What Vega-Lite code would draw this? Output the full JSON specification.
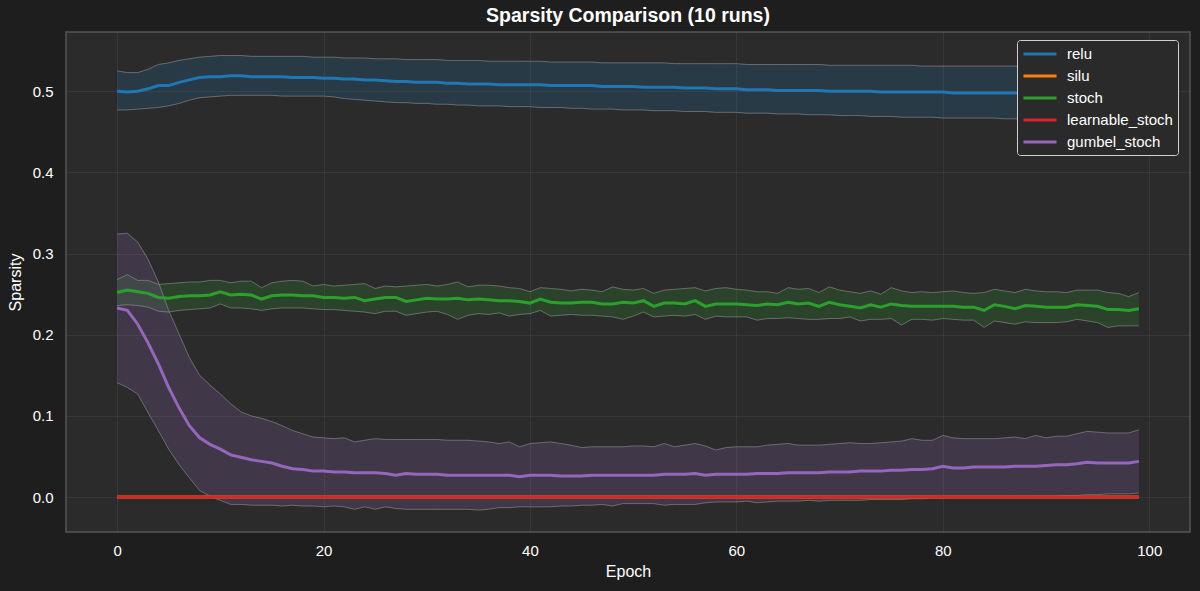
{
  "$schema": "https://vega.github.io/schema/vega-lite/v6.json",
  "width": 1124,
  "height": 500,
  "autosize": {"type": "none"},
  "padding": {"left": 66, "top": 32, "right": 10, "bottom": 59},
  "background": "#1e1e1e",
  "title": {"text": "Sparsity Comparison (10 runs)", "color": "#ffffff", "font": "Liberation Sans", "fontSize": 19.5, "fontWeight": "bold", "anchor": "middle", "offset": 6},
  "config": {
    "view": {"fill": "#2b2b2b", "stroke": "#555555", "strokeWidth": 1.5},
    "axis": {"labelColor": "#ffffff", "titleColor": "#ffffff", "labelFont": "Liberation Sans", "titleFont": "Liberation Sans", "labelFontSize": 15, "titleFontSize": 16, "titleFontWeight": "normal", "gridColor": "#ffffff", "gridOpacity": 0.06, "domain": false, "ticks": false},
    "legend": {"orient": "none", "legendX": 951, "legendY": 8, "fillColor": "#2a2a2a", "strokeColor": "#d0d0d0", "cornerRadius": 3, "padding": 5, "labelColor": "#ffffff", "labelFont": "Liberation Sans", "labelFontSize": 15, "symbolType": "M-1,0H3.4", "symbolStrokeWidth": 3, "symbolSize": 225, "symbolOpacity": 1, "rowPadding": 5, "labelOffset": 27}
  },
  "datasets": {
    "runs": [
      {"e":0,"s":"relu","m":0.500,"hi":0.525,"lo":0.477},{"e":1,"s":"relu","m":0.499,"hi":0.523,"lo":0.477},{"e":2,"s":"relu","m":0.500,"hi":0.523,"lo":0.478},{"e":3,"s":"relu","m":0.503,"hi":0.527,"lo":0.479},{"e":4,"s":"relu","m":0.507,"hi":0.533,"lo":0.480},
      {"e":5,"s":"relu","m":0.507,"hi":0.535,"lo":0.482},{"e":6,"s":"relu","m":0.511,"hi":0.538,"lo":0.485},{"e":7,"s":"relu","m":0.514,"hi":0.540,"lo":0.489},{"e":8,"s":"relu","m":0.517,"hi":0.542,"lo":0.492},{"e":9,"s":"relu","m":0.518,"hi":0.543,"lo":0.493},
      {"e":10,"s":"relu","m":0.518,"hi":0.544,"lo":0.494},{"e":11,"s":"relu","m":0.519,"hi":0.544,"lo":0.495},{"e":12,"s":"relu","m":0.519,"hi":0.544,"lo":0.495},{"e":13,"s":"relu","m":0.518,"hi":0.543,"lo":0.495},{"e":14,"s":"relu","m":0.518,"hi":0.543,"lo":0.495},
      {"e":15,"s":"relu","m":0.518,"hi":0.543,"lo":0.495},{"e":16,"s":"relu","m":0.518,"hi":0.543,"lo":0.494},{"e":17,"s":"relu","m":0.517,"hi":0.543,"lo":0.494},{"e":18,"s":"relu","m":0.517,"hi":0.543,"lo":0.494},{"e":19,"s":"relu","m":0.517,"hi":0.542,"lo":0.494},
      {"e":20,"s":"relu","m":0.516,"hi":0.542,"lo":0.494},{"e":21,"s":"relu","m":0.516,"hi":0.542,"lo":0.493},{"e":22,"s":"relu","m":0.515,"hi":0.541,"lo":0.491},{"e":23,"s":"relu","m":0.515,"hi":0.541,"lo":0.490},{"e":24,"s":"relu","m":0.514,"hi":0.541,"lo":0.489},
      {"e":25,"s":"relu","m":0.514,"hi":0.540,"lo":0.488},{"e":26,"s":"relu","m":0.513,"hi":0.540,"lo":0.487},{"e":27,"s":"relu","m":0.512,"hi":0.540,"lo":0.486},{"e":28,"s":"relu","m":0.512,"hi":0.539,"lo":0.486},{"e":29,"s":"relu","m":0.511,"hi":0.539,"lo":0.485},
      {"e":30,"s":"relu","m":0.511,"hi":0.539,"lo":0.485},{"e":31,"s":"relu","m":0.511,"hi":0.539,"lo":0.484},{"e":32,"s":"relu","m":0.510,"hi":0.538,"lo":0.484},{"e":33,"s":"relu","m":0.510,"hi":0.538,"lo":0.483},{"e":34,"s":"relu","m":0.509,"hi":0.538,"lo":0.483},
      {"e":35,"s":"relu","m":0.509,"hi":0.538,"lo":0.482},{"e":36,"s":"relu","m":0.509,"hi":0.537,"lo":0.482},{"e":37,"s":"relu","m":0.508,"hi":0.537,"lo":0.482},{"e":38,"s":"relu","m":0.508,"hi":0.537,"lo":0.481},{"e":39,"s":"relu","m":0.508,"hi":0.537,"lo":0.481},
      {"e":40,"s":"relu","m":0.508,"hi":0.537,"lo":0.481},{"e":41,"s":"relu","m":0.508,"hi":0.537,"lo":0.480},{"e":42,"s":"relu","m":0.507,"hi":0.536,"lo":0.480},{"e":43,"s":"relu","m":0.507,"hi":0.536,"lo":0.480},{"e":44,"s":"relu","m":0.507,"hi":0.536,"lo":0.479},
      {"e":45,"s":"relu","m":0.507,"hi":0.536,"lo":0.479},{"e":46,"s":"relu","m":0.507,"hi":0.536,"lo":0.478},{"e":47,"s":"relu","m":0.506,"hi":0.535,"lo":0.478},{"e":48,"s":"relu","m":0.506,"hi":0.535,"lo":0.478},{"e":49,"s":"relu","m":0.506,"hi":0.535,"lo":0.477},
      {"e":50,"s":"relu","m":0.506,"hi":0.535,"lo":0.477},{"e":51,"s":"relu","m":0.505,"hi":0.535,"lo":0.477},{"e":52,"s":"relu","m":0.505,"hi":0.535,"lo":0.476},{"e":53,"s":"relu","m":0.505,"hi":0.535,"lo":0.476},{"e":54,"s":"relu","m":0.505,"hi":0.534,"lo":0.476},
      {"e":55,"s":"relu","m":0.504,"hi":0.534,"lo":0.475},{"e":56,"s":"relu","m":0.504,"hi":0.534,"lo":0.475},{"e":57,"s":"relu","m":0.504,"hi":0.534,"lo":0.475},{"e":58,"s":"relu","m":0.503,"hi":0.534,"lo":0.474},{"e":59,"s":"relu","m":0.503,"hi":0.534,"lo":0.474},
      {"e":60,"s":"relu","m":0.503,"hi":0.534,"lo":0.474},{"e":61,"s":"relu","m":0.502,"hi":0.533,"lo":0.473},{"e":62,"s":"relu","m":0.502,"hi":0.533,"lo":0.473},{"e":63,"s":"relu","m":0.502,"hi":0.533,"lo":0.473},{"e":64,"s":"relu","m":0.501,"hi":0.533,"lo":0.472},
      {"e":65,"s":"relu","m":0.501,"hi":0.533,"lo":0.472},{"e":66,"s":"relu","m":0.501,"hi":0.533,"lo":0.472},{"e":67,"s":"relu","m":0.501,"hi":0.533,"lo":0.471},{"e":68,"s":"relu","m":0.501,"hi":0.533,"lo":0.471},{"e":69,"s":"relu","m":0.500,"hi":0.532,"lo":0.471},
      {"e":70,"s":"relu","m":0.500,"hi":0.532,"lo":0.470},{"e":71,"s":"relu","m":0.500,"hi":0.532,"lo":0.470},{"e":72,"s":"relu","m":0.500,"hi":0.532,"lo":0.470},{"e":73,"s":"relu","m":0.500,"hi":0.532,"lo":0.469},{"e":74,"s":"relu","m":0.499,"hi":0.532,"lo":0.469},
      {"e":75,"s":"relu","m":0.499,"hi":0.532,"lo":0.469},{"e":76,"s":"relu","m":0.499,"hi":0.532,"lo":0.468},{"e":77,"s":"relu","m":0.499,"hi":0.532,"lo":0.468},{"e":78,"s":"relu","m":0.499,"hi":0.531,"lo":0.468},{"e":79,"s":"relu","m":0.499,"hi":0.531,"lo":0.468},
      {"e":80,"s":"relu","m":0.499,"hi":0.531,"lo":0.467},{"e":81,"s":"relu","m":0.498,"hi":0.531,"lo":0.467},{"e":82,"s":"relu","m":0.498,"hi":0.531,"lo":0.467},{"e":83,"s":"relu","m":0.498,"hi":0.531,"lo":0.467},{"e":84,"s":"relu","m":0.498,"hi":0.531,"lo":0.467},
      {"e":85,"s":"relu","m":0.498,"hi":0.531,"lo":0.467},{"e":86,"s":"relu","m":0.498,"hi":0.531,"lo":0.466},{"e":87,"s":"relu","m":0.498,"hi":0.531,"lo":0.466},{"e":88,"s":"relu","m":0.498,"hi":0.530,"lo":0.466},{"e":89,"s":"relu","m":0.497,"hi":0.530,"lo":0.466},
      {"e":90,"s":"relu","m":0.497,"hi":0.530,"lo":0.466},{"e":91,"s":"relu","m":0.497,"hi":0.530,"lo":0.466},{"e":92,"s":"relu","m":0.497,"hi":0.530,"lo":0.465},{"e":93,"s":"relu","m":0.497,"hi":0.530,"lo":0.465},{"e":94,"s":"relu","m":0.497,"hi":0.530,"lo":0.465},
      {"e":95,"s":"relu","m":0.497,"hi":0.530,"lo":0.465},{"e":96,"s":"relu","m":0.497,"hi":0.530,"lo":0.465},{"e":97,"s":"relu","m":0.497,"hi":0.530,"lo":0.465},{"e":98,"s":"relu","m":0.497,"hi":0.530,"lo":0.465},{"e":99,"s":"relu","m":0.497,"hi":0.530,"lo":0.465},

      {"e":0,"s":"silu","m":0},{"e":1,"s":"silu","m":0},{"e":2,"s":"silu","m":0},{"e":3,"s":"silu","m":0},{"e":4,"s":"silu","m":0},{"e":5,"s":"silu","m":0},{"e":6,"s":"silu","m":0},{"e":7,"s":"silu","m":0},{"e":8,"s":"silu","m":0},{"e":9,"s":"silu","m":0},
      {"e":10,"s":"silu","m":0},{"e":11,"s":"silu","m":0},{"e":12,"s":"silu","m":0},{"e":13,"s":"silu","m":0},{"e":14,"s":"silu","m":0},{"e":15,"s":"silu","m":0},{"e":16,"s":"silu","m":0},{"e":17,"s":"silu","m":0},{"e":18,"s":"silu","m":0},{"e":19,"s":"silu","m":0},
      {"e":20,"s":"silu","m":0},{"e":21,"s":"silu","m":0},{"e":22,"s":"silu","m":0},{"e":23,"s":"silu","m":0},{"e":24,"s":"silu","m":0},{"e":25,"s":"silu","m":0},{"e":26,"s":"silu","m":0},{"e":27,"s":"silu","m":0},{"e":28,"s":"silu","m":0},{"e":29,"s":"silu","m":0},
      {"e":30,"s":"silu","m":0},{"e":31,"s":"silu","m":0},{"e":32,"s":"silu","m":0},{"e":33,"s":"silu","m":0},{"e":34,"s":"silu","m":0},{"e":35,"s":"silu","m":0},{"e":36,"s":"silu","m":0},{"e":37,"s":"silu","m":0},{"e":38,"s":"silu","m":0},{"e":39,"s":"silu","m":0},
      {"e":40,"s":"silu","m":0},{"e":41,"s":"silu","m":0},{"e":42,"s":"silu","m":0},{"e":43,"s":"silu","m":0},{"e":44,"s":"silu","m":0},{"e":45,"s":"silu","m":0},{"e":46,"s":"silu","m":0},{"e":47,"s":"silu","m":0},{"e":48,"s":"silu","m":0},{"e":49,"s":"silu","m":0},
      {"e":50,"s":"silu","m":0},{"e":51,"s":"silu","m":0},{"e":52,"s":"silu","m":0},{"e":53,"s":"silu","m":0},{"e":54,"s":"silu","m":0},{"e":55,"s":"silu","m":0},{"e":56,"s":"silu","m":0},{"e":57,"s":"silu","m":0},{"e":58,"s":"silu","m":0},{"e":59,"s":"silu","m":0},
      {"e":60,"s":"silu","m":0},{"e":61,"s":"silu","m":0},{"e":62,"s":"silu","m":0},{"e":63,"s":"silu","m":0},{"e":64,"s":"silu","m":0},{"e":65,"s":"silu","m":0},{"e":66,"s":"silu","m":0},{"e":67,"s":"silu","m":0},{"e":68,"s":"silu","m":0},{"e":69,"s":"silu","m":0},
      {"e":70,"s":"silu","m":0},{"e":71,"s":"silu","m":0},{"e":72,"s":"silu","m":0},{"e":73,"s":"silu","m":0},{"e":74,"s":"silu","m":0},{"e":75,"s":"silu","m":0},{"e":76,"s":"silu","m":0},{"e":77,"s":"silu","m":0},{"e":78,"s":"silu","m":0},{"e":79,"s":"silu","m":0},
      {"e":80,"s":"silu","m":0},{"e":81,"s":"silu","m":0},{"e":82,"s":"silu","m":0},{"e":83,"s":"silu","m":0},{"e":84,"s":"silu","m":0},{"e":85,"s":"silu","m":0},{"e":86,"s":"silu","m":0},{"e":87,"s":"silu","m":0},{"e":88,"s":"silu","m":0},{"e":89,"s":"silu","m":0},
      {"e":90,"s":"silu","m":0},{"e":91,"s":"silu","m":0},{"e":92,"s":"silu","m":0},{"e":93,"s":"silu","m":0},{"e":94,"s":"silu","m":0},{"e":95,"s":"silu","m":0},{"e":96,"s":"silu","m":0},{"e":97,"s":"silu","m":0},{"e":98,"s":"silu","m":0},{"e":99,"s":"silu","m":0},

      {"e":0,"s":"stoch","m":0.252,"hi":0.268,"lo":0.236},{"e":1,"s":"stoch","m":0.255,"hi":0.274,"lo":0.237},{"e":2,"s":"stoch","m":0.253,"hi":0.267,"lo":0.236},{"e":3,"s":"stoch","m":0.251,"hi":0.267,"lo":0.234},{"e":4,"s":"stoch","m":0.246,"hi":0.262,"lo":0.229},
      {"e":5,"s":"stoch","m":0.245,"hi":0.263,"lo":0.228},{"e":6,"s":"stoch","m":0.247,"hi":0.264,"lo":0.230},{"e":7,"s":"stoch","m":0.248,"hi":0.265,"lo":0.231},{"e":8,"s":"stoch","m":0.248,"hi":0.265,"lo":0.232},{"e":9,"s":"stoch","m":0.249,"hi":0.267,"lo":0.233},
      {"e":10,"s":"stoch","m":0.253,"hi":0.267,"lo":0.238},{"e":11,"s":"stoch","m":0.249,"hi":0.264,"lo":0.233},{"e":12,"s":"stoch","m":0.250,"hi":0.266,"lo":0.233},{"e":13,"s":"stoch","m":0.249,"hi":0.266,"lo":0.232},{"e":14,"s":"stoch","m":0.244,"hi":0.258,"lo":0.230},
      {"e":15,"s":"stoch","m":0.248,"hi":0.264,"lo":0.232},{"e":16,"s":"stoch","m":0.249,"hi":0.266,"lo":0.233},{"e":17,"s":"stoch","m":0.249,"hi":0.267,"lo":0.233},{"e":18,"s":"stoch","m":0.248,"hi":0.266,"lo":0.233},{"e":19,"s":"stoch","m":0.248,"hi":0.260,"lo":0.232},
      {"e":20,"s":"stoch","m":0.246,"hi":0.262,"lo":0.231},{"e":21,"s":"stoch","m":0.246,"hi":0.260,"lo":0.231},{"e":22,"s":"stoch","m":0.245,"hi":0.261,"lo":0.230},{"e":23,"s":"stoch","m":0.246,"hi":0.262,"lo":0.229},{"e":24,"s":"stoch","m":0.242,"hi":0.263,"lo":0.228},
      {"e":25,"s":"stoch","m":0.244,"hi":0.257,"lo":0.226},{"e":26,"s":"stoch","m":0.246,"hi":0.260,"lo":0.229},{"e":27,"s":"stoch","m":0.246,"hi":0.259,"lo":0.229},{"e":28,"s":"stoch","m":0.241,"hi":0.260,"lo":0.224},{"e":29,"s":"stoch","m":0.243,"hi":0.261,"lo":0.226},
      {"e":30,"s":"stoch","m":0.245,"hi":0.262,"lo":0.228},{"e":31,"s":"stoch","m":0.244,"hi":0.260,"lo":0.229},{"e":32,"s":"stoch","m":0.244,"hi":0.262,"lo":0.225},{"e":33,"s":"stoch","m":0.245,"hi":0.265,"lo":0.219},{"e":34,"s":"stoch","m":0.243,"hi":0.259,"lo":0.224},
      {"e":35,"s":"stoch","m":0.244,"hi":0.261,"lo":0.226},{"e":36,"s":"stoch","m":0.243,"hi":0.261,"lo":0.225},{"e":37,"s":"stoch","m":0.242,"hi":0.260,"lo":0.227},{"e":38,"s":"stoch","m":0.242,"hi":0.258,"lo":0.223},{"e":39,"s":"stoch","m":0.241,"hi":0.257,"lo":0.225},
      {"e":40,"s":"stoch","m":0.239,"hi":0.253,"lo":0.226},{"e":41,"s":"stoch","m":0.244,"hi":0.258,"lo":0.230},{"e":42,"s":"stoch","m":0.240,"hi":0.257,"lo":0.223},{"e":43,"s":"stoch","m":0.239,"hi":0.256,"lo":0.224},{"e":44,"s":"stoch","m":0.239,"hi":0.254,"lo":0.225},
      {"e":45,"s":"stoch","m":0.240,"hi":0.256,"lo":0.224},{"e":46,"s":"stoch","m":0.240,"hi":0.255,"lo":0.224},{"e":47,"s":"stoch","m":0.238,"hi":0.253,"lo":0.223},{"e":48,"s":"stoch","m":0.238,"hi":0.259,"lo":0.222},{"e":49,"s":"stoch","m":0.240,"hi":0.256,"lo":0.219},
      {"e":50,"s":"stoch","m":0.239,"hi":0.255,"lo":0.223},{"e":51,"s":"stoch","m":0.242,"hi":0.257,"lo":0.228},{"e":52,"s":"stoch","m":0.235,"hi":0.251,"lo":0.222},{"e":53,"s":"stoch","m":0.239,"hi":0.255,"lo":0.223},{"e":54,"s":"stoch","m":0.239,"hi":0.256,"lo":0.224},
      {"e":55,"s":"stoch","m":0.238,"hi":0.257,"lo":0.223},{"e":56,"s":"stoch","m":0.242,"hi":0.258,"lo":0.225},{"e":57,"s":"stoch","m":0.235,"hi":0.254,"lo":0.219},{"e":58,"s":"stoch","m":0.238,"hi":0.257,"lo":0.223},{"e":59,"s":"stoch","m":0.238,"hi":0.258,"lo":0.222},
      {"e":60,"s":"stoch","m":0.238,"hi":0.256,"lo":0.222},{"e":61,"s":"stoch","m":0.237,"hi":0.255,"lo":0.222},{"e":62,"s":"stoch","m":0.236,"hi":0.253,"lo":0.218},{"e":63,"s":"stoch","m":0.238,"hi":0.253,"lo":0.220},{"e":64,"s":"stoch","m":0.237,"hi":0.251,"lo":0.220},
      {"e":65,"s":"stoch","m":0.240,"hi":0.258,"lo":0.221},{"e":66,"s":"stoch","m":0.238,"hi":0.256,"lo":0.220},{"e":67,"s":"stoch","m":0.239,"hi":0.257,"lo":0.219},{"e":68,"s":"stoch","m":0.235,"hi":0.252,"lo":0.219},{"e":69,"s":"stoch","m":0.240,"hi":0.259,"lo":0.220},
      {"e":70,"s":"stoch","m":0.237,"hi":0.255,"lo":0.220},{"e":71,"s":"stoch","m":0.235,"hi":0.253,"lo":0.222},{"e":72,"s":"stoch","m":0.233,"hi":0.251,"lo":0.217},{"e":73,"s":"stoch","m":0.237,"hi":0.254,"lo":0.219},{"e":74,"s":"stoch","m":0.234,"hi":0.250,"lo":0.219},
      {"e":75,"s":"stoch","m":0.238,"hi":0.258,"lo":0.220},{"e":76,"s":"stoch","m":0.236,"hi":0.254,"lo":0.212},{"e":77,"s":"stoch","m":0.235,"hi":0.252,"lo":0.219},{"e":78,"s":"stoch","m":0.235,"hi":0.253,"lo":0.219},{"e":79,"s":"stoch","m":0.235,"hi":0.252,"lo":0.218},
      {"e":80,"s":"stoch","m":0.235,"hi":0.253,"lo":0.220},{"e":81,"s":"stoch","m":0.235,"hi":0.254,"lo":0.219},{"e":82,"s":"stoch","m":0.234,"hi":0.252,"lo":0.218},{"e":83,"s":"stoch","m":0.234,"hi":0.251,"lo":0.218},{"e":84,"s":"stoch","m":0.230,"hi":0.252,"lo":0.209},
      {"e":85,"s":"stoch","m":0.237,"hi":0.256,"lo":0.217},{"e":86,"s":"stoch","m":0.235,"hi":0.254,"lo":0.215},{"e":87,"s":"stoch","m":0.232,"hi":0.252,"lo":0.213},{"e":88,"s":"stoch","m":0.236,"hi":0.256,"lo":0.216},{"e":89,"s":"stoch","m":0.235,"hi":0.254,"lo":0.215},
      {"e":90,"s":"stoch","m":0.234,"hi":0.253,"lo":0.215},{"e":91,"s":"stoch","m":0.234,"hi":0.253,"lo":0.215},{"e":92,"s":"stoch","m":0.234,"hi":0.252,"lo":0.216},{"e":93,"s":"stoch","m":0.237,"hi":0.255,"lo":0.219},{"e":94,"s":"stoch","m":0.236,"hi":0.255,"lo":0.217},
      {"e":95,"s":"stoch","m":0.235,"hi":0.255,"lo":0.215},{"e":96,"s":"stoch","m":0.231,"hi":0.252,"lo":0.209},{"e":97,"s":"stoch","m":0.231,"hi":0.251,"lo":0.211},{"e":98,"s":"stoch","m":0.230,"hi":0.247,"lo":0.211},{"e":99,"s":"stoch","m":0.232,"hi":0.252,"lo":0.211},

      {"e":0,"s":"learnable_stoch","m":0},{"e":1,"s":"learnable_stoch","m":0},{"e":2,"s":"learnable_stoch","m":0},{"e":3,"s":"learnable_stoch","m":0},{"e":4,"s":"learnable_stoch","m":0},{"e":5,"s":"learnable_stoch","m":0},{"e":6,"s":"learnable_stoch","m":0},{"e":7,"s":"learnable_stoch","m":0},{"e":8,"s":"learnable_stoch","m":0},{"e":9,"s":"learnable_stoch","m":0},
      {"e":10,"s":"learnable_stoch","m":0},{"e":11,"s":"learnable_stoch","m":0},{"e":12,"s":"learnable_stoch","m":0},{"e":13,"s":"learnable_stoch","m":0},{"e":14,"s":"learnable_stoch","m":0},{"e":15,"s":"learnable_stoch","m":0},{"e":16,"s":"learnable_stoch","m":0},{"e":17,"s":"learnable_stoch","m":0},{"e":18,"s":"learnable_stoch","m":0},{"e":19,"s":"learnable_stoch","m":0},
      {"e":20,"s":"learnable_stoch","m":0},{"e":21,"s":"learnable_stoch","m":0},{"e":22,"s":"learnable_stoch","m":0},{"e":23,"s":"learnable_stoch","m":0},{"e":24,"s":"learnable_stoch","m":0},{"e":25,"s":"learnable_stoch","m":0},{"e":26,"s":"learnable_stoch","m":0},{"e":27,"s":"learnable_stoch","m":0},{"e":28,"s":"learnable_stoch","m":0},{"e":29,"s":"learnable_stoch","m":0},
      {"e":30,"s":"learnable_stoch","m":0},{"e":31,"s":"learnable_stoch","m":0},{"e":32,"s":"learnable_stoch","m":0},{"e":33,"s":"learnable_stoch","m":0},{"e":34,"s":"learnable_stoch","m":0},{"e":35,"s":"learnable_stoch","m":0},{"e":36,"s":"learnable_stoch","m":0},{"e":37,"s":"learnable_stoch","m":0},{"e":38,"s":"learnable_stoch","m":0},{"e":39,"s":"learnable_stoch","m":0},
      {"e":40,"s":"learnable_stoch","m":0},{"e":41,"s":"learnable_stoch","m":0},{"e":42,"s":"learnable_stoch","m":0},{"e":43,"s":"learnable_stoch","m":0},{"e":44,"s":"learnable_stoch","m":0},{"e":45,"s":"learnable_stoch","m":0},{"e":46,"s":"learnable_stoch","m":0},{"e":47,"s":"learnable_stoch","m":0},{"e":48,"s":"learnable_stoch","m":0},{"e":49,"s":"learnable_stoch","m":0},
      {"e":50,"s":"learnable_stoch","m":0},{"e":51,"s":"learnable_stoch","m":0},{"e":52,"s":"learnable_stoch","m":0},{"e":53,"s":"learnable_stoch","m":0},{"e":54,"s":"learnable_stoch","m":0},{"e":55,"s":"learnable_stoch","m":0},{"e":56,"s":"learnable_stoch","m":0},{"e":57,"s":"learnable_stoch","m":0},{"e":58,"s":"learnable_stoch","m":0},{"e":59,"s":"learnable_stoch","m":0},
      {"e":60,"s":"learnable_stoch","m":0},{"e":61,"s":"learnable_stoch","m":0},{"e":62,"s":"learnable_stoch","m":0},{"e":63,"s":"learnable_stoch","m":0},{"e":64,"s":"learnable_stoch","m":0},{"e":65,"s":"learnable_stoch","m":0},{"e":66,"s":"learnable_stoch","m":0},{"e":67,"s":"learnable_stoch","m":0},{"e":68,"s":"learnable_stoch","m":0},{"e":69,"s":"learnable_stoch","m":0},
      {"e":70,"s":"learnable_stoch","m":0},{"e":71,"s":"learnable_stoch","m":0},{"e":72,"s":"learnable_stoch","m":0},{"e":73,"s":"learnable_stoch","m":0},{"e":74,"s":"learnable_stoch","m":0},{"e":75,"s":"learnable_stoch","m":0},{"e":76,"s":"learnable_stoch","m":0},{"e":77,"s":"learnable_stoch","m":0},{"e":78,"s":"learnable_stoch","m":0},{"e":79,"s":"learnable_stoch","m":0},
      {"e":80,"s":"learnable_stoch","m":0},{"e":81,"s":"learnable_stoch","m":0},{"e":82,"s":"learnable_stoch","m":0},{"e":83,"s":"learnable_stoch","m":0},{"e":84,"s":"learnable_stoch","m":0},{"e":85,"s":"learnable_stoch","m":0},{"e":86,"s":"learnable_stoch","m":0},{"e":87,"s":"learnable_stoch","m":0},{"e":88,"s":"learnable_stoch","m":0},{"e":89,"s":"learnable_stoch","m":0},
      {"e":90,"s":"learnable_stoch","m":0},{"e":91,"s":"learnable_stoch","m":0},{"e":92,"s":"learnable_stoch","m":0},{"e":93,"s":"learnable_stoch","m":0},{"e":94,"s":"learnable_stoch","m":0},{"e":95,"s":"learnable_stoch","m":0},{"e":96,"s":"learnable_stoch","m":0},{"e":97,"s":"learnable_stoch","m":0},{"e":98,"s":"learnable_stoch","m":0},{"e":99,"s":"learnable_stoch","m":0},

      {"e":0,"s":"gumbel_stoch","m":0.233,"hi":0.324,"lo":0.141},{"e":1,"s":"gumbel_stoch","m":0.230,"hi":0.325,"lo":0.135},{"e":2,"s":"gumbel_stoch","m":0.213,"hi":0.314,"lo":0.127},{"e":3,"s":"gumbel_stoch","m":0.190,"hi":0.293,"lo":0.104},{"e":4,"s":"gumbel_stoch","m":0.164,"hi":0.265,"lo":0.082},
      {"e":5,"s":"gumbel_stoch","m":0.135,"hi":0.230,"lo":0.059},{"e":6,"s":"gumbel_stoch","m":0.110,"hi":0.201,"lo":0.040},{"e":7,"s":"gumbel_stoch","m":0.088,"hi":0.172,"lo":0.024},{"e":8,"s":"gumbel_stoch","m":0.073,"hi":0.150,"lo":0.008},{"e":9,"s":"gumbel_stoch","m":0.065,"hi":0.138,"lo":0.001},
      {"e":10,"s":"gumbel_stoch","m":0.059,"hi":0.127,"lo":-0.004},{"e":11,"s":"gumbel_stoch","m":0.052,"hi":0.115,"lo":-0.009},{"e":12,"s":"gumbel_stoch","m":0.049,"hi":0.105,"lo":-0.009},{"e":13,"s":"gumbel_stoch","m":0.046,"hi":0.100,"lo":-0.010},{"e":14,"s":"gumbel_stoch","m":0.044,"hi":0.097,"lo":-0.010},
      {"e":15,"s":"gumbel_stoch","m":0.042,"hi":0.093,"lo":-0.010},{"e":16,"s":"gumbel_stoch","m":0.038,"hi":0.088,"lo":-0.011},{"e":17,"s":"gumbel_stoch","m":0.035,"hi":0.082,"lo":-0.010},{"e":18,"s":"gumbel_stoch","m":0.034,"hi":0.078,"lo":-0.011},{"e":19,"s":"gumbel_stoch","m":0.032,"hi":0.074,"lo":-0.011},
      {"e":20,"s":"gumbel_stoch","m":0.032,"hi":0.073,"lo":-0.012},{"e":21,"s":"gumbel_stoch","m":0.031,"hi":0.072,"lo":-0.011},{"e":22,"s":"gumbel_stoch","m":0.031,"hi":0.073,"lo":-0.012},{"e":23,"s":"gumbel_stoch","m":0.030,"hi":0.068,"lo":-0.015},{"e":24,"s":"gumbel_stoch","m":0.030,"hi":0.070,"lo":-0.012},
      {"e":25,"s":"gumbel_stoch","m":0.030,"hi":0.072,"lo":-0.015},{"e":26,"s":"gumbel_stoch","m":0.029,"hi":0.071,"lo":-0.012},{"e":27,"s":"gumbel_stoch","m":0.027,"hi":0.071,"lo":-0.014},{"e":28,"s":"gumbel_stoch","m":0.029,"hi":0.071,"lo":-0.015},{"e":29,"s":"gumbel_stoch","m":0.028,"hi":0.071,"lo":-0.015},
      {"e":30,"s":"gumbel_stoch","m":0.028,"hi":0.071,"lo":-0.015},{"e":31,"s":"gumbel_stoch","m":0.028,"hi":0.071,"lo":-0.015},{"e":32,"s":"gumbel_stoch","m":0.027,"hi":0.070,"lo":-0.015},{"e":33,"s":"gumbel_stoch","m":0.027,"hi":0.070,"lo":-0.015},{"e":34,"s":"gumbel_stoch","m":0.027,"hi":0.070,"lo":-0.015},
      {"e":35,"s":"gumbel_stoch","m":0.027,"hi":0.069,"lo":-0.016},{"e":36,"s":"gumbel_stoch","m":0.027,"hi":0.068,"lo":-0.015},{"e":37,"s":"gumbel_stoch","m":0.027,"hi":0.066,"lo":-0.013},{"e":38,"s":"gumbel_stoch","m":0.027,"hi":0.068,"lo":-0.013},{"e":39,"s":"gumbel_stoch","m":0.025,"hi":0.062,"lo":-0.012},
      {"e":40,"s":"gumbel_stoch","m":0.027,"hi":0.066,"lo":-0.012},{"e":41,"s":"gumbel_stoch","m":0.027,"hi":0.067,"lo":-0.012},{"e":42,"s":"gumbel_stoch","m":0.027,"hi":0.068,"lo":-0.012},{"e":43,"s":"gumbel_stoch","m":0.026,"hi":0.066,"lo":-0.011},{"e":44,"s":"gumbel_stoch","m":0.026,"hi":0.064,"lo":-0.011},
      {"e":45,"s":"gumbel_stoch","m":0.026,"hi":0.061,"lo":-0.010},{"e":46,"s":"gumbel_stoch","m":0.027,"hi":0.062,"lo":-0.010},{"e":47,"s":"gumbel_stoch","m":0.027,"hi":0.062,"lo":-0.009},{"e":48,"s":"gumbel_stoch","m":0.027,"hi":0.062,"lo":-0.011},{"e":49,"s":"gumbel_stoch","m":0.027,"hi":0.062,"lo":-0.008},
      {"e":50,"s":"gumbel_stoch","m":0.027,"hi":0.063,"lo":-0.008},{"e":51,"s":"gumbel_stoch","m":0.027,"hi":0.063,"lo":-0.008},{"e":52,"s":"gumbel_stoch","m":0.027,"hi":0.062,"lo":-0.008},{"e":53,"s":"gumbel_stoch","m":0.028,"hi":0.066,"lo":-0.010},{"e":54,"s":"gumbel_stoch","m":0.028,"hi":0.062,"lo":-0.009},
      {"e":55,"s":"gumbel_stoch","m":0.028,"hi":0.064,"lo":-0.009},{"e":56,"s":"gumbel_stoch","m":0.029,"hi":0.066,"lo":-0.009},{"e":57,"s":"gumbel_stoch","m":0.027,"hi":0.063,"lo":-0.007},{"e":58,"s":"gumbel_stoch","m":0.028,"hi":0.058,"lo":-0.006},{"e":59,"s":"gumbel_stoch","m":0.028,"hi":0.061,"lo":-0.006},
      {"e":60,"s":"gumbel_stoch","m":0.028,"hi":0.062,"lo":-0.006},{"e":61,"s":"gumbel_stoch","m":0.028,"hi":0.062,"lo":-0.005},{"e":62,"s":"gumbel_stoch","m":0.029,"hi":0.062,"lo":-0.007},{"e":63,"s":"gumbel_stoch","m":0.029,"hi":0.064,"lo":-0.006},{"e":64,"s":"gumbel_stoch","m":0.029,"hi":0.065,"lo":-0.005},
      {"e":65,"s":"gumbel_stoch","m":0.030,"hi":0.066,"lo":-0.005},{"e":66,"s":"gumbel_stoch","m":0.030,"hi":0.064,"lo":-0.005},{"e":67,"s":"gumbel_stoch","m":0.030,"hi":0.064,"lo":-0.004},{"e":68,"s":"gumbel_stoch","m":0.030,"hi":0.064,"lo":-0.005},{"e":69,"s":"gumbel_stoch","m":0.031,"hi":0.065,"lo":-0.004},
      {"e":70,"s":"gumbel_stoch","m":0.031,"hi":0.066,"lo":-0.004},{"e":71,"s":"gumbel_stoch","m":0.031,"hi":0.067,"lo":-0.004},{"e":72,"s":"gumbel_stoch","m":0.032,"hi":0.066,"lo":-0.004},{"e":73,"s":"gumbel_stoch","m":0.032,"hi":0.066,"lo":-0.003},{"e":74,"s":"gumbel_stoch","m":0.032,"hi":0.067,"lo":-0.003},
      {"e":75,"s":"gumbel_stoch","m":0.033,"hi":0.068,"lo":-0.003},{"e":76,"s":"gumbel_stoch","m":0.033,"hi":0.069,"lo":-0.003},{"e":77,"s":"gumbel_stoch","m":0.034,"hi":0.072,"lo":-0.002},{"e":78,"s":"gumbel_stoch","m":0.034,"hi":0.070,"lo":-0.002},{"e":79,"s":"gumbel_stoch","m":0.035,"hi":0.070,"lo":-0.001},
      {"e":80,"s":"gumbel_stoch","m":0.038,"hi":0.076,"lo":-0.001},{"e":81,"s":"gumbel_stoch","m":0.036,"hi":0.073,"lo":0.000},{"e":82,"s":"gumbel_stoch","m":0.036,"hi":0.072,"lo":0.000},{"e":83,"s":"gumbel_stoch","m":0.037,"hi":0.072,"lo":0.000},{"e":84,"s":"gumbel_stoch","m":0.037,"hi":0.072,"lo":0.000},
      {"e":85,"s":"gumbel_stoch","m":0.037,"hi":0.072,"lo":0.000},{"e":86,"s":"gumbel_stoch","m":0.037,"hi":0.073,"lo":0.000},{"e":87,"s":"gumbel_stoch","m":0.038,"hi":0.074,"lo":0.001},{"e":88,"s":"gumbel_stoch","m":0.038,"hi":0.072,"lo":0.000},{"e":89,"s":"gumbel_stoch","m":0.038,"hi":0.076,"lo":0.001},
      {"e":90,"s":"gumbel_stoch","m":0.039,"hi":0.073,"lo":0.001},{"e":91,"s":"gumbel_stoch","m":0.040,"hi":0.075,"lo":0.001},{"e":92,"s":"gumbel_stoch","m":0.040,"hi":0.075,"lo":0.002},{"e":93,"s":"gumbel_stoch","m":0.041,"hi":0.078,"lo":0.002},{"e":94,"s":"gumbel_stoch","m":0.043,"hi":0.081,"lo":0.003},
      {"e":95,"s":"gumbel_stoch","m":0.042,"hi":0.080,"lo":0.003},{"e":96,"s":"gumbel_stoch","m":0.042,"hi":0.079,"lo":0.004},{"e":97,"s":"gumbel_stoch","m":0.042,"hi":0.079,"lo":0.004},{"e":98,"s":"gumbel_stoch","m":0.042,"hi":0.079,"lo":0.004},{"e":99,"s":"gumbel_stoch","m":0.044,"hi":0.083,"lo":0.005}
    ]
  },
  "data": {"name": "runs"},
  "encoding": {
    "x": {"field": "e", "type": "quantitative", "scale": {"domain": [-4.95, 103.95], "nice": false, "zero": false}, "axis": {"title": "Epoch", "values": [0, 20, 40, 60, 80, 100], "labelPadding": 11, "titlePadding": 5}}
  },
  "layer": [
    {
      "mark": {"type": "area", "opacity": 0.2, "clip": true},
      "encoding": {
        "y": {"field": "lo", "type": "quantitative", "title": "Sparsity", "scale": {"domain": [-0.043, 0.573], "nice": false, "zero": false}, "axis": {"values": [0, 0.1, 0.2, 0.3, 0.4, 0.5], "format": ".1f", "labelPadding": 13, "titlePadding": 9}},
        "y2": {"field": "hi"},
        "color": {"field": "s", "type": "nominal", "title": null}
      }
    },
    {
      "mark": {"type": "line", "color": "#9a9a9a", "strokeWidth": 1, "opacity": 0.55, "clip": true},
      "encoding": {
        "y": {"field": "hi", "type": "quantitative", "title": "Sparsity"},
        "detail": {"field": "s"}
      }
    },
    {
      "mark": {"type": "line", "color": "#9a9a9a", "strokeWidth": 1, "opacity": 0.55, "clip": true},
      "encoding": {
        "y": {"field": "lo", "type": "quantitative", "title": "Sparsity"},
        "detail": {"field": "s"}
      }
    },
    {
      "mark": {"type": "line", "strokeWidth": 3, "clip": true},
      "encoding": {
        "y": {"field": "m", "type": "quantitative", "title": "Sparsity"},
        "color": {
          "field": "s", "type": "nominal", "title": null,
          "scale": {"domain": ["relu", "silu", "stoch", "learnable_stoch", "gumbel_stoch"], "range": ["#1f77b4", "#ff7f0e", "#2ca02c", "#d62728", "#9467bd"]}
        }
      }
    }
  ]
}
